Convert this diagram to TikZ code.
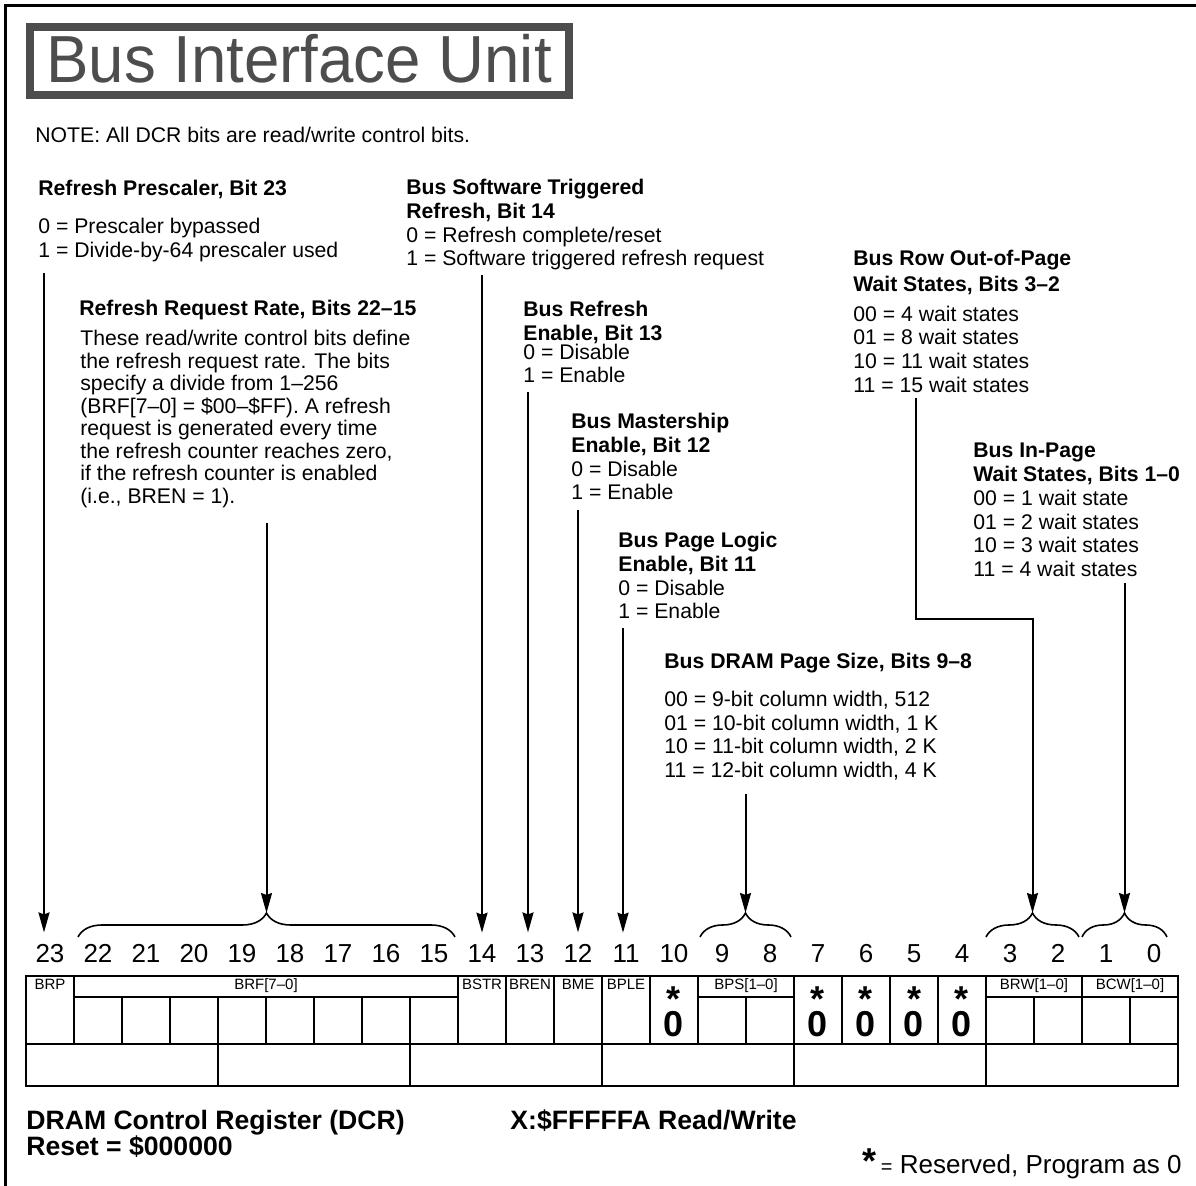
\documentclass[tikz,border=0pt]{standalone}
\usepackage{fontspec}
\setmainfont{Liberation Sans}
\usetikzlibrary{arrows.meta, decorations.pathreplacing}
\definecolor{BIUGray}{HTML}{4D4D4D}

\begin{document}
\begin{tikzpicture}[
        x=0.5pt, y=-0.5pt,
        blk/.style={anchor=north west, inner sep=0pt, align=left, font=\fontsize{10.6}{11.9}\selectfont},
        arr/.style={-{Stealth[length=10pt, width=5.5pt, inset=1pt]}, line width=1pt},
        brc/.style={decorate, decoration={brace, amplitude=12pt}, line width=0.8pt},
        reg/.style={line width=1pt},
        bitnum/.style={anchor=base, inner xsep=0pt, inner ysep=6pt, font=\fontsize{13}{13}\selectfont},
        fld/.style={anchor=base, inner sep=0pt, font=\fontsize{7.5}{7.5}\selectfont},
        rsv/.style={anchor=north, inner sep=0pt, align=center, font=\fontsize{18}{19.65}\selectfont\bfseries},
        foot/.style={anchor=base west, inner sep=0pt, font=\fontsize{13.3}{13.3}\selectfont\bfseries}
    ]
    \useasboundingbox (0,0) rectangle (1196,1186);
    \draw[line width=1.2pt] (5.5,1186) -- (5.5,5.5) -- (1196,5.5);

    % title and note
    \draw[BIUGray, line width=4pt] (30,27) rectangle (569,95);
    \node[anchor=base, inner sep=0pt, text=BIUGray, font=\fontsize{33.3}{33.3}\selectfont] (ttl) at (299,82.7)
        {\scalebox{0.955}[1]{Bus Interface Unit}};
    \node[blk] (note) at (35,126.8) {NOTE: All DCR bits are read/write control bits.};

    % bit descriptions
    \node[blk] (prs) at (38,179.8) {\textbf{Refresh Prescaler, Bit 23}\\[7pt]
        0 = Prescaler bypassed\\ 1 = Divide-by-64 prescaler used};
    \node[blk] (rateh) at (79,299.8) {\textbf{Refresh Request Rate, Bits 22--15}};
    \node[blk, font={\fontsize{10.6}{11.25}\selectfont\lineskiplimit=-5pt\relax}] (ratep) at (80,329.8)
        {These read/write control bits define\\ the refresh request rate. The bits\\ specify a divide from 1--256\\
         (BRF[7--0] = \$00--\$FF). A refresh\\ request is generated every time\\ the refresh counter reaches zero,\\
         if the refresh counter is enabled\\ (i.e., BREN = 1).};
    \node[blk] (sws) at (406,178.8) {\textbf{Bus Software Triggered}\\ \textbf{Refresh, Bit 14}\\
        0 = Refresh complete/reset\\ 1 = Software triggered refresh request};
    \node[blk] (ren) at (523,300.8) {\textbf{Bus Refresh}\\ \textbf{Enable, Bit 13}\\[-2.5pt]
        0 = Disable\\ 1 = Enable};
    \node[blk] (mst) at (571,412.8) {\textbf{Bus Mastership}\\ \textbf{Enable, Bit 12}\\
        0 = Disable\\ 1 = Enable};
    \node[blk] (ple) at (618,531.8) {\textbf{Bus Page Logic}\\ \textbf{Enable, Bit 11}\\
        0 = Disable\\ 1 = Enable};
    \node[blk] (pgs) at (664,652.8) {\textbf{Bus DRAM Page Size, Bits 9--8}\\[7pt]
        00 = 9-bit column width, 512\\ 01 = 10-bit column width, 1 K\\
        10 = 11-bit column width, 2 K\\ 11 = 12-bit column width, 4 K};
    \node[blk] (row) at (853,249.8) {\textbf{Bus Row Out-of-Page}\\[1pt] \textbf{Wait States, Bits 3--2}\\[3pt]
        00 = 4 wait states\\ 01 = 8 wait states\\ 10 = 11 wait states\\ 11 = 15 wait states};
    \node[blk] (inp) at (973,442.8) {\textbf{Bus In-Page}\\ \textbf{Wait States, Bits 1--0}\\
        00 = 1 wait state\\ 01 = 2 wait states\\ 10 = 3 wait states\\ 11 = 4 wait states};

    % bit numbers
    \foreach \b in {0,...,23}
        \node[bitnum] (n\b) at ({50+(23-\b)*48},963) {\b};

    % register
    \draw[reg] (26,976) rectangle (1178,1086);
    \draw[reg] (26,1044) -- (1178,1044);
    \foreach \x in {74,458,506,554,602,650,698,794,842,890,938,986,1082}
        \draw[reg] (\x,976) -- (\x,1044);
    \foreach \x in {122,170,...,410,746,1034,1130}
        \draw[reg] (\x,997) -- (\x,1044);
    \foreach \a/\b in {74/458,698/794,986/1178}
        \draw[reg] (\a,997) -- (\b,997);
    \foreach \x in {218,410,...,986}
        \draw[reg] (\x,1044) -- (\x,1086);

    \foreach \x/\t [count=\i] in {50/BRP, 266/{BRF[7--0]}, 482/BSTR, 530/BREN, 578/BME, 626/BPLE,
            746/{BPS[1--0]}, 1034/{BRW[1--0]}, 1130/{BCW[1--0]}}
        \node[fld] (f\i) at (\x,990) {\t};
    \foreach \x in {674,818,866,914,962}
        \node[rsv] (r\x) at (\x,985) {\raisebox{-0.4em}[0.32em][0pt]{*}\\ 0};

    % braces
    \draw[brc] (78,937) -- (455,937) coordinate[midway, yshift=12pt] (k22);
    \draw[brc] (700,937) -- (791,937) coordinate[midway, yshift=12pt] (k9);
    \draw[brc] (986,937) -- (1079,937) coordinate[midway, yshift=12pt] (k3);
    \draw[brc] (1082,937) -- (1167,937) coordinate[midway, yshift=12pt] (k1);

    % arrows
    \coordinate (a23) at (44,273);
    \coordinate (a22) at (k22 |- 0,523);
    \coordinate (a14) at (482,275);
    \coordinate (a13) at (528,392);
    \coordinate (a12) at (578,510);
    \coordinate (a11) at (623,628);
    \coordinate (a9) at (k9 |- 0,794);
    \coordinate (a3) at (916,398);
    \coordinate (e3) at (k3 |- 0,619);
    \coordinate (a1) at (k1 |- 0,583);

    \draw[arr] (a23) -- (a23 |- n23.north);
    \draw[arr] (a22) -- (k22);
    \draw[arr] (a14) -- (a14 |- n14.north);
    \draw[arr] (a13) -- (a13 |- n13.north);
    \draw[arr] (a12) -- (a12 |- n12.north);
    \draw[arr] (a11) -- (a11 |- n11.north);
    \draw[arr] (a9) -- (k9);
    \draw[arr] (a3) |- (e3) -- (k3);
    \draw[arr] (a1) -- (k1);

    % footer
    \node[foot] (dcr) at (26,1130) {DRAM Control Register (DCR)};
    \node[foot] (rst) at (26,1156) {Reset = \$000000};
    \node[foot] (adr) at (510,1130) {X:\$FFFFFA Read/Write};
    \node[anchor=base east, inner sep=0pt, font=\fontsize{13}{13}\selectfont] (key) at (1182,1174)
        {{\fontsize{18}{18}\selectfont\bfseries *}\,{\fontsize{10}{10}\selectfont =} Reserved, Program as 0};
\end{tikzpicture}
\end{document}
